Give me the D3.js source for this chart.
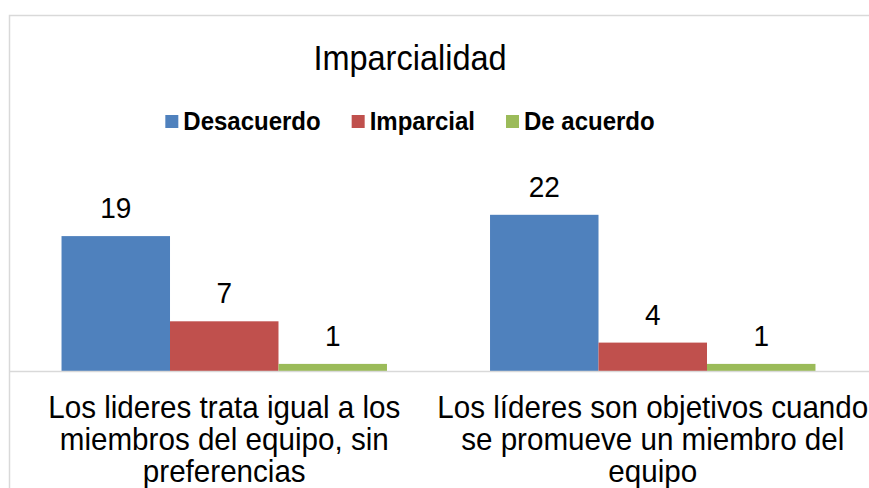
<!DOCTYPE html>
<html>
<head>
<meta charset="utf-8">
<script src="https://cdn.jsdelivr.net/npm/d3@7"></script>
<style>
  html, body { margin: 0; padding: 0; background: #fff; }
  svg { display: block; font-family: "Liberation Sans", Arial, sans-serif; }
</style>
</head>
<body>
<div id="chart-area"></div>
<script>
const categories = ["c1", "c2"];
const categoryLines = [
    ["Los lideres trata igual a los", "miembros del equipo, sin", "preferencias"],
    ["Los líderes son objetivos cuando", "se promueve un miembro del", "equipo"]
];
const seriesNames = ["Desacuerdo", "Imparcial", "De acuerdo"];
const seriesColors = ["#4F81BD", "#C0504D", "#9BBB59"];
const desacuerdo = [19, 22];
const imparcial = [7, 4];
const deAcuerdo = [1, 1];
const seriesValues = [desacuerdo, imparcial, deAcuerdo];
const titleText = "Imparcialidad";

const WIDTH = 869,
    HEIGHT = 488,
    PLOT_LEFT = 10,
    PLOT_RIGHT = 867,
    BASELINE = 371,
    UNIT = 7.1,
    Y_MAX = 25,
    CENTER_X = 410,
    STRETCH = 1.07, // text in the picture is a bit taller than wide
    BORDER = "#d9d9d9";

const svg = d3.select("#chart-area")
    .append("svg")
    .attr("width", WIDTH)
    .attr("height", HEIGHT);

const at = (x, y) => `translate(${x},${y}) scale(1,${STRETCH})`;

// chart frame (cut at right and bottom)
svg.append("path")
    .attr("d", `M9.5,${HEIGHT} V15.5 H${WIDTH}`)
    .attr("fill", "none")
    .attr("stroke", BORDER)
    .attr("stroke-width", 1.5);

const x0 = d3.scaleBand()
    .domain(categories)
    .range([PLOT_LEFT, PLOT_RIGHT]);

const x1 = d3.scaleBand()
    .domain(seriesNames)
    .range([0, x0.bandwidth()])
    .paddingOuter(0.475);

const y = d3.scaleLinear()
    .domain([0, Y_MAX])
    .range([BASELINE, BASELINE - Y_MAX * UNIT]);

const rows = [];
seriesNames.forEach((s, si) => {
    categories.forEach((c, ci) => {
        rows.push({series: s, color: seriesColors[si], cat: c, value: seriesValues[si][ci]});
    });
});

svg.append("g")
    .selectAll("rect")
    .data(rows)
    .join("rect")
    .attr("x", d => x0(d.cat) + x1(d.series))
    .attr("width", x1.bandwidth())
    .attr("y", d => y(d.value))
    .attr("height", d => y(0) - y(d.value))
    .attr("fill", d => d.color);

svg.append("g")
    .selectAll("text")
    .data(rows)
    .join("text")
    .attr("transform", d => at(x0(d.cat) + x1(d.series) + x1.bandwidth() / 2, y(d.value) - 18))
    .attr("text-anchor", "middle")
    .attr("font-size", 28)
    .attr("fill", "#000")
    .text(d => d.value);

// category axis
const xAxis = svg.append("g")
    .attr("transform", `translate(0,${BASELINE + 0.5})`)
    .call(d3.axisBottom(x0).tickSize(0).tickFormat(""));
xAxis.select(".domain").remove();
xAxis.append("line")
    .attr("x1", 9.5)
    .attr("x2", WIDTH)
    .attr("stroke", BORDER)
    .attr("stroke-width", 1.5);

xAxis.selectAll(".tick").each(function(d, i) {
    const t = d3.select(this).append("text")
        .attr("transform", at(0, 46))
        .attr("text-anchor", "middle")
        .attr("font-size", 29.6)
        .attr("fill", "#000");
    categoryLines[i].forEach((line, li) => {
        t.append("tspan")
            .attr("x", 0)
            .attr("y", li * 32.3 / STRETCH)
            .text(line);
    });
});

// title
svg.append("text")
    .attr("transform", at(CENTER_X, 70))
    .attr("text-anchor", "middle")
    .attr("font-size", 32.5)
    .attr("fill", "#000")
    .text(titleText);

// legend
const legend = svg.append("g");
const items = legend.selectAll("g")
    .data(seriesNames)
    .join("g");
items.append("rect")
    .attr("y", 115)
    .attr("width", 13)
    .attr("height", 13)
    .attr("fill", (d, i) => seriesColors[i]);
items.append("text")
    .attr("transform", at(18, 130))
    .attr("font-size", 24)
    .attr("font-weight", "bold")
    .attr("fill", "#000")
    .text(d => d);

let offset = 0;
const positions = [];
items.each(function() {
    const w = d3.select(this).select("text").node().getComputedTextLength();
    positions.push(offset);
    offset += 18 + w + 31;
});
const total = offset - 31;
items.attr("transform", (d, i) => `translate(${CENTER_X - total / 2 + positions[i]},0)`);
</script>
</body>
</html>
